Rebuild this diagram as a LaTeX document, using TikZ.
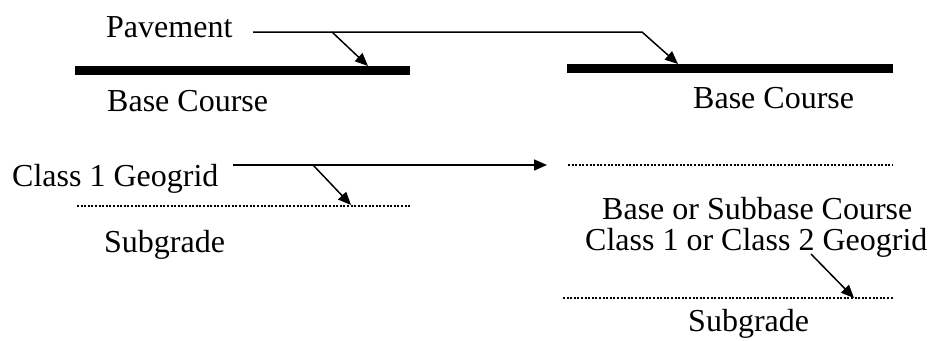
\documentclass[tikz,border=0pt]{standalone}
\usepackage{fontspec}
\setmainfont{Liberation Serif}
\usetikzlibrary{arrows.meta}
\tikzset{
  lbl/.style={inner sep=0pt, anchor=base west, font=\fontsize{32}{36}\selectfont},
  lead/.style={line width=1.5pt},
  leadarr/.style={line width=1.5pt, -{Triangle[length=13pt,width=11pt]}},
  layerbar/.style={line width=9pt},
  gridline/.style={line width=1.2pt, dash pattern=on 2pt off 1.6pt}
}
\begin{document}
\begin{tikzpicture}[x=1pt,y=-1pt]
\useasboundingbox[fill=white] (0,0) rectangle (942,340);
% labels
\node[lbl] (pav) at (106,37) {Pavement};
\node[lbl] (bcL) at (107,111) {Base Course};
\node[lbl] (bcR) at (693,108) {Base Course};
\node[lbl] (geoL) at (12,186) {Class 1 Geogrid};
\node[lbl] (sgL) at (104,252) {Subgrade};
\node[lbl] (bsc) at (602,219) {Base or Subbase Course};
\node[lbl] (geoR) at (585,250) {Class 1 or Class 2 Geogrid};
\node[lbl] (sgR) at (688,331) {Subgrade};
% coordinates
\coordinate (pA) at (253,32);
\coordinate (pB) at (332,32);
\coordinate (pC) at (642,32);
\coordinate (pTipL) at (368,66);
\coordinate (pTipR) at (678,64);
\coordinate (barL1) at (75,70);
\coordinate (barL2) at (410,70);
\coordinate (barR1) at (567,68);
\coordinate (barR2) at (893,68);
\coordinate (gA) at (233,165);
\coordinate (gB) at (313,165);
\coordinate (gEnd) at (547,165);
\coordinate (gTip) at (351,205);
\coordinate (dL1) at (77,206);
\coordinate (dL2) at (410,206);
\coordinate (dR1) at (568,165);
\coordinate (dR2) at (893,165);
\coordinate (dB1) at (563,298);
\coordinate (dB2) at (893,298);
\coordinate (rA) at (811,254);
\coordinate (rTip) at (854,298);
% pavement layers
\draw[layerbar] (barL1) -- (barL2);
\draw[layerbar] (barR1) -- (barR2);
% geogrid lines
\draw[gridline] (dL1) -- (dL2);
\draw[gridline] (dR1) -- (dR2);
\draw[gridline] (dB1) -- (dB2);
% leaders
\draw[leadarr] (pA) -- (pC) -- (pTipR);
\draw[leadarr] (pB) -- (pTipL);
\draw[leadarr] (gA) -- (gEnd);
\draw[leadarr] (gB) -- (gTip);
\draw[leadarr] (rA) -- (rTip);
\end{tikzpicture}
\end{document}
